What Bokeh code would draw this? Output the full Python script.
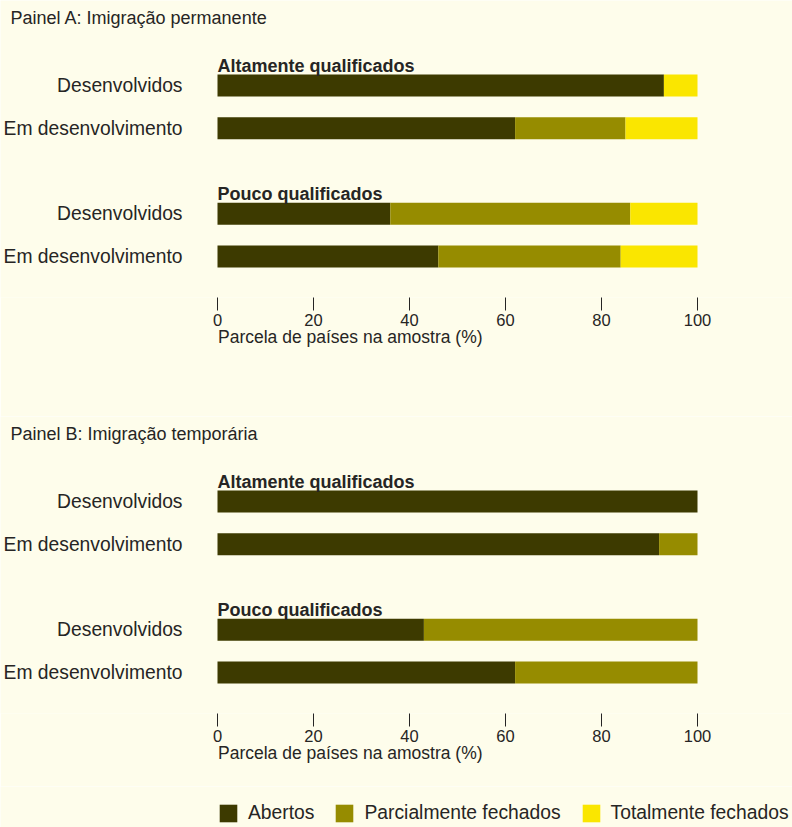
from bokeh.plotting import figure
from bokeh.models import Range1d, FixedTicker, ColumnDataSource, LinearAxis
from bokeh.layouts import column
from bokeh.core.properties import value
from bokeh.embed import file_html
from bokeh.resources import INLINE

# ---------------- data ----------------
categories = ["Desenvolvidos", "Em desenvolvimento"]
groups = ["Altamente qualificados", "Pouco qualificados"]
series = ["Abertos", "Parcialmente fechados", "Totalmente fechados"]
colors = ["#3D3A00", "#968C00", "#FAE600"]
ticks = [0, 20, 40, 60, 80, 100]
tick_labels = ["0", "20", "40", "60", "80", "100"]

panel_titles = ["Painel A: Imigração permanente", "Painel B: Imigração temporária"]
# order: Altamente/Desenvolvidos, Altamente/Em desenv., Pouco/Desenvolvidos, Pouco/Em desenv.
a_abertos = [93, 62, 36, 46]
a_parcial = [0, 23, 50, 38]
a_total = [7, 15, 14, 16]
b_abertos = [100, 92, 43, 62]
b_parcial = [0, 8, 57, 38]
b_total = [0, 0, 0, 0]
x_title = "Parcela de países na amostra (%)"

# ---------------- style ----------------
BG = "#FEFDEB"
TXT = "#262524"
FONT = "Liberation Sans"
W = 792
PX_PER_UNIT = 4.8          # px per percent
ROW_PX = 42.75             # px per row unit
X0_PX = 217                # px where 0% sits
x_start = -X0_PX / PX_PER_UNIT
x_end = 100 + (W - X0_PX - 480) / PX_PER_UNIT
FRAME_H = 297
FIRST_ROW_PX = 85          # centre of first bar below frame top
Y_TOP = 4 + FIRST_ROW_PX / ROW_PX
Y_BOT = Y_TOP - FRAME_H / ROW_PX
# the axis title is centred on the frame; trailing no-break spaces push it to start at 0 %
TITLE_PAD = "\u00a0" * 19

rows = [4, 3, 1, 0]
bar_h = 22 / ROW_PX


def ypx(py):
    """frame-local pixel (from top) -> data y"""
    return Y_TOP - py / ROW_PX


def style_fig(p):
    p.background_fill_color = BG
    p.border_fill_color = BG
    p.outline_line_color = None
    p.grid.visible = False


def make_panel(title, src, height):
    p = figure(width=W, height=height, output_backend="svg", toolbar_location=None,
               x_range=Range1d(x_start, x_end), y_range=Range1d(Y_BOT, Y_TOP),
               y_axis_location=None,
               min_border_left=0, min_border_right=0, min_border_top=0,
               min_border_bottom=height - FRAME_H)
    style_fig(p)

    p.hbar_stack(series, y="y", height=bar_h, fill_color=colors, line_color=None, source=src)

    # row labels
    labels = [categories[0], categories[1], categories[0], categories[1]]
    p.text(x=[(182 - X0_PX) / PX_PER_UNIT] * 4, y=rows, text=labels,
           text_align="right", text_baseline="middle",
           text_font=value(FONT), text_font_size="19.3px", text_color=TXT)
    # group labels
    p.text(x=[0, 0], y=[rows[0] + 19.5 / ROW_PX, rows[2] + 19.5 / ROW_PX], text=groups,
           text_align="left", text_baseline="middle", text_font_style="bold",
           text_font=value(FONT), text_font_size="18px", text_color=TXT)
    # panel title
    p.text(x=[(10 - X0_PX) / PX_PER_UNIT], y=[ypx(17)], text=[title],
           text_align="left", text_baseline="middle",
           text_font=value(FONT), text_font_size="18px", text_color=TXT)

    ax = p.xaxis[0]
    ax.ticker = FixedTicker(ticks=ticks)
    ax.major_label_overrides = {t: l for t, l in zip(ticks, tick_labels)}
    ax.bounds = (0, 100)
    ax.axis_line_color = None
    ax.major_tick_in = 0
    ax.major_tick_out = 13
    ax.major_tick_line_color = TXT
    ax.minor_tick_line_color = None
    ax.minor_tick_out = 0
    ax.major_label_text_font = FONT
    ax.major_label_text_font_size = "16.5px"
    ax.major_label_text_color = TXT
    ax.major_label_standoff = 3

    # second axis carrying only the axis title
    t_ax = LinearAxis(ticker=FixedTicker(ticks=[]), bounds=(0, 100),
                      axis_line_color=None, major_tick_line_color=None,
                      minor_tick_line_color=None, major_tick_out=0, major_tick_in=0,
                      minor_tick_out=0, minor_tick_in=0, major_label_standoff=0,
                      axis_label=x_title + TITLE_PAD, axis_label_standoff=-2,
                      axis_label_text_font=FONT, axis_label_text_font_style="normal",
                      axis_label_text_font_size="17.5px", axis_label_text_color=TXT)
    p.add_layout(t_ax, "below")
    return p


srcA = ColumnDataSource(dict(y=rows, **{series[0]: a_abertos, series[1]: a_parcial,
                                        series[2]: a_total}))
srcB = ColumnDataSource(dict(y=rows, **{series[0]: b_abertos, series[1]: b_parcial,
                                        series[2]: b_total}))

pA = make_panel(panel_titles[0], srcA, 416)
pB = make_panel(panel_titles[1], srcB, 370)

# legend strip: same stacked renderers, kept outside the visible y range; only the legend shows
pL = figure(width=W, height=41, output_backend="svg", toolbar_location=None,
            x_range=Range1d(x_start, x_end), y_range=Range1d(50, 51),
            x_axis_location=None, y_axis_location=None,
            min_border_left=0, min_border_right=0, min_border_top=0, min_border_bottom=0)
style_fig(pL)
pL.hbar_stack(series, y="y", height=bar_h, fill_color=colors, line_color=None,
              source=srcB, legend_label=series)
lg = pL.legend[0]
lg.orientation = "horizontal"
lg.location = (X0_PX, 3)
lg.padding = 0
lg.margin = 0
lg.spacing = 19
lg.glyph_width = 22
lg.glyph_height = 22
lg.label_height = 22
lg.label_standoff = 9
lg.label_text_font = FONT
lg.label_text_font_size = "19.3px"
lg.label_text_color = TXT
lg.background_fill_alpha = 0
lg.border_line_color = None

layout = column(pA, pB, pL)
open("out.html", "w").write(file_html(layout, INLINE))
